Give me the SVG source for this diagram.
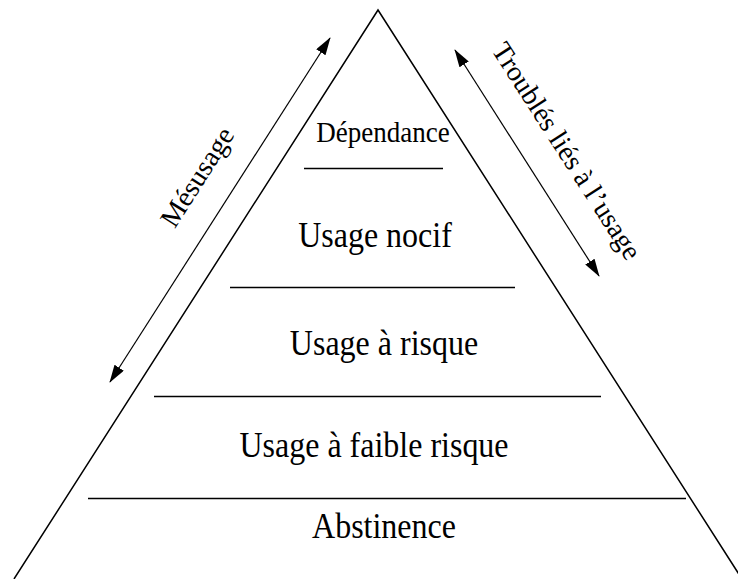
<svg xmlns="http://www.w3.org/2000/svg" width="738" height="579" viewBox="0 0 738 579">
<defs>
<style>
.ln{stroke:#000;stroke-width:1.5;fill:none}
.ar{stroke:#000;stroke-width:1.2;fill:none}
.t{font-family:"Liberation Serif","Times New Roman",serif;fill:#000;text-anchor:middle}
</style>
<marker id="ah" viewBox="0 0 18 11" refX="17" refY="5.5" markerWidth="18" markerHeight="11" markerUnits="userSpaceOnUse" orient="auto-start-reverse">
<path d="M0,0 L18,5.5 L0,11 Z" fill="#000"/>
</marker>
</defs>
<rect width="738" height="579" fill="#fff"/>
<g id="pyramid">
<polyline class="ln" points="14,579 378,10 742,579"/>
</g>
<g id="dependance">
<text class="t" font-size="27" transform="translate(383,142) scale(1,1.1)">Dépendance</text>
<line class="ln" x1="304" y1="168.5" x2="443" y2="168.5"/>
</g>
<g id="usage-nocif">
<text class="t" font-size="32" transform="translate(375,247) scale(1,1.1)">Usage nocif</text>
<line class="ln" x1="230" y1="287.5" x2="515" y2="287.5"/>
</g>
<g id="usage-risque">
<text class="t" font-size="32" transform="translate(384,355) scale(1,1.1)">Usage à risque</text>
<line class="ln" x1="154" y1="396.5" x2="601" y2="396.5"/>
</g>
<g id="usage-faible">
<text class="t" font-size="32" transform="translate(374,457) scale(1,1.1)">Usage à faible risque</text>
<line class="ln" x1="88" y1="498.5" x2="686" y2="498.5"/>
</g>
<g id="abstinence">
<text class="t" font-size="32" transform="translate(384,538) scale(1,1.1)">Abstinence</text>
</g>
<g id="connectors">
<line class="ar" x1="110" y1="382" x2="330" y2="38" marker-start="url(#ah)" marker-end="url(#ah)"/>
<line class="ar" x1="455" y1="50" x2="599" y2="276" marker-start="url(#ah)" marker-end="url(#ah)"/>
</g>
<g id="label-mesusage">
<text class="t" font-size="28" transform="translate(205,182) rotate(-57.4)">Mésusage</text>
</g>
<g id="label-troubles">
<text class="t" font-size="28" transform="translate(559,156) rotate(57.3)">Troublés liés à l’usage</text>
</g>
</svg>
